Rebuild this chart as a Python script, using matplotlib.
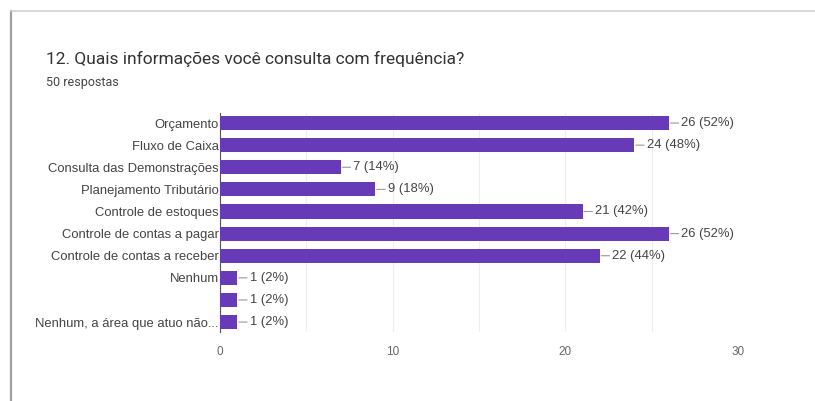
import matplotlib.pyplot as plt
import numpy as np

plt.rcParams['font.family'] = ['Roboto', 'DejaVu Sans']

categories = ["Orçamento", "Fluxo de Caixa", "Consulta das Demonstrações",
              "Planejamento Tributário", "Controle de estoques",
              "Controle de contas a pagar", "Controle de contas a receber",
              "Nenhum", "", "Nenhum, a área que atuo não..."]
counts = [26, 24, 7, 9, 21, 26, 22, 1, 1, 1]
total = 50
xticks = [0, 10, 20, 30]

bar_color = "#673ab7"
text_color = "#444444"
label_font = ["Liberation Sans", "DejaVu Sans"]

fig = plt.figure(figsize=(8.15, 4.01), dpi=100)

# card border (left and top edges)
fig.add_artist(plt.Line2D([0.0135, 0.0135], [0.0, 0.973], transform=fig.transFigure,
                          color="#a0a0a0", lw=1.6))
fig.add_artist(plt.Line2D([0.0135, 1.0], [0.973, 0.973], transform=fig.transFigure,
                          color="#d0d0d0", lw=1.2))

fig.text(0.057, 0.852, "12. Quais informações você consulta com frequência?",
         fontsize=12.5, color="#333333", va="center")
fig.text(0.057, 0.795, "50 respostas", fontsize=9, color="#444444", va="center")

ax = fig.add_axes([0.27, 0.172, 0.6355, 0.546])
y = np.arange(len(categories))
ax.barh(y, counts, height=0.64, color=bar_color, zorder=3)

for i, c in enumerate(counts):
    ax.annotate(f"{c} ({c / total * 100:.0f}%)", xy=(c, i), xytext=(9, 0),
                textcoords="offset points", va="center", ha="left",
                fontsize=9.4, color=text_color, family=label_font,
                arrowprops=dict(arrowstyle="-", color="#999999", lw=0.8,
                                shrinkA=0, shrinkB=1))

ax.set_xlim(0, 30)
ax.set_ylim(len(categories) - 0.55, -0.45)
ax.set_yticks(y)
ax.set_yticklabels(categories, fontsize=9.4, color=text_color, family=label_font)
ax.set_xticks(xticks)
ax.set_xticklabels([str(t) for t in xticks], fontsize=8.5, color="#666666",
                   family=label_font)
ax.set_xticks(np.arange(5, 31, 10), minor=True)
ax.tick_params(axis="both", which="both", length=0)
ax.tick_params(axis="x", pad=10)
ax.tick_params(axis="y", pad=1)
ax.grid(axis="x", which="both", color="#eeeeee", lw=0.8, zorder=0)

for side in ["top", "right", "bottom"]:
    ax.spines[side].set_visible(False)
ax.spines["left"].set_color("#555555")
ax.spines["left"].set_linewidth(0.8)

fig.savefig("out.png", dpi=100, facecolor="white")
